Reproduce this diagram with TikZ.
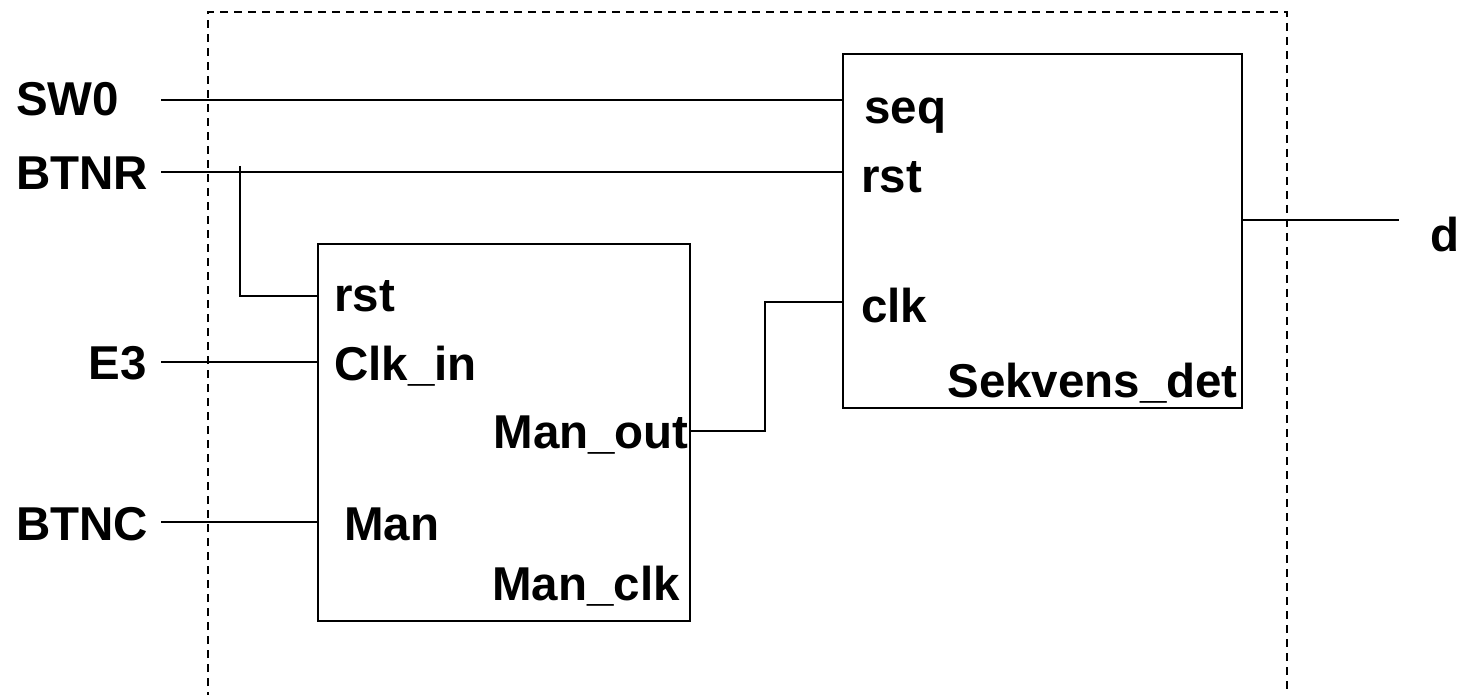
\documentclass[tikz,border=0pt]{standalone}
\usepackage{fontspec}
\setmainfont{Liberation Sans}
\begin{document}
\begin{tikzpicture}[x=1pt,y=-1pt,
  wire/.style={line width=1.7pt},
  frame/.style={line width=1.5pt,dash pattern=on 8pt off 6pt},
  block/.style={draw,line width=1.7pt,rectangle,inner sep=0pt,anchor=north west},
  pin/.style={inner sep=0pt,font=\fontsize{47.5}{52}\selectfont\bfseries},
]
\useasboundingbox (0,0) rectangle (1460,695);

% enclosing dashed boundary (open at the bottom)
\draw[frame] (208,700) -- (208,12) -- (1287,12) -- (1287,700);

% blocks
\node[block,minimum width=372pt,minimum height=377pt] (man) at (317,243) {};
\node[block,minimum width=399pt,minimum height=354pt] (sek) at (842,53) {};

% external port names
\node[pin,anchor=base west] (sw0)  at (16,116) {SW0};
\node[pin,anchor=base west] (btnr) at (16,190) {BTNR};
\node[pin,anchor=base east] (e3)   at (147,379) {E3};
\node[pin,anchor=base west] (btnc) at (16,540) {BTNC};
\node[pin,anchor=base west] (dout) at (1430,252) {d};

% pin names inside Sekvens_det
\node[pin,anchor=base west] (sekseq) at (864,124) {seq};
\node[pin,anchor=base west] (sekrst) at (861,193) {rst};
\node[pin,anchor=base west] (sekclk) at (861,323) {clk};
\node[pin,anchor=base east] (sekname) at (1238,397) {Sekvens\_det};

% pin names inside Man_clk
\node[pin,anchor=base west] (manrst) at (334,312) {rst};
\node[pin,anchor=base west] (manclkin) at (334,380) {Clk\_in};
\node[pin,anchor=base east] (manout) at (689,448) {Man\_out};
\node[pin,anchor=base west] (manman) at (344,540) {Man};
\node[pin,anchor=base east] (manname) at (680,600) {Man\_clk};

% wire end points
\coordinate (sw0p)  at (161,100);
\coordinate (btnrp) at (161,172);
\coordinate (e3p)   at (161,362);
\coordinate (btncp) at (161,522);
\coordinate (dp)    at (1399,220);
\coordinate (tap)   at (240,166);

% wiring
\draw[wire] (sw0p) -- (sw0p -| sek.west);
\draw[wire] (btnrp) -- (btnrp -| sek.west);
\draw[wire] (tap) |- (man.west |- 0,296);
\draw[wire] (e3p) -- (e3p -| man.west);
\draw[wire] (btncp) -- (btncp -| man.west);
\draw[wire] (man.east |- 0,431) -- (765,431) -- (765,302) -- (sek.west |- 0,302);
\draw[wire] (sek.east |- dp) -- (dp);
\end{tikzpicture}
\end{document}
